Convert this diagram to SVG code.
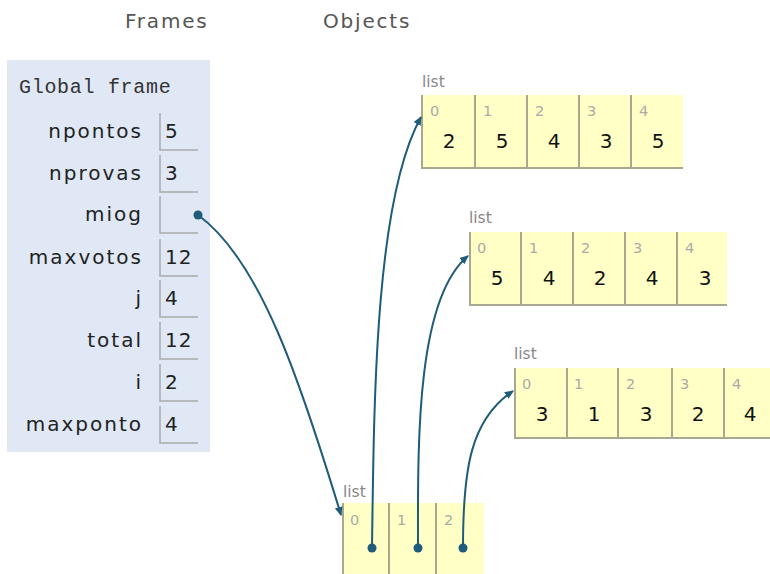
<svg xmlns="http://www.w3.org/2000/svg" width="770" height="574" viewBox="0 0 770 574">
<style>
.hd{font-family:"DejaVu Sans",Verdana,sans-serif;font-size:20px;letter-spacing:1.8px;fill:#555}
.gf{font-family:"Liberation Mono","DejaVu Sans Mono",monospace;font-size:20px;letter-spacing:0.7px;fill:#333}
.vn{font-family:"DejaVu Sans",Verdana,sans-serif;font-size:20px;letter-spacing:2px;fill:#222;text-anchor:end}
.vv{font-family:"DejaVu Sans",Verdana,sans-serif;font-size:20px;letter-spacing:1px;fill:#222}
.cell{fill:none;stroke:#aaa;stroke-width:1.5}
.lt{font-family:"DejaVu Sans",Verdana,sans-serif;font-size:15.5px;fill:#888}
.ix{font-family:"DejaVu Sans",Verdana,sans-serif;font-size:14.5px;fill:#aaa}
.lv{font-family:"DejaVu Sans",Verdana,sans-serif;font-size:20px;fill:#111;text-anchor:middle}
.lb{fill:#ffffc6}
.ld{stroke:#a8a890;stroke-width:2;fill:none}
.con{fill:none;stroke:#1f5b7a;stroke-width:2}
.dot{fill:#1f5b7a}
</style>
<defs>
<marker id="ah" markerWidth="10" markerHeight="10" refX="8" refY="5" orient="auto" markerUnits="userSpaceOnUse">
<path d="M0,1 L9,5 L0,9 Z" fill="#1f5b7a"/>
</marker>
</defs>
<text class="hd" x="125" y="28">Frames</text>
<text class="hd" x="323" y="28">Objects</text>
<g id="global-frame">
<rect x="7" y="60" width="203" height="392" fill="#dfe8f4"/>
<text class="gf" x="19" y="93">Global frame</text>
<g id="v-npontos"><text class="vn" x="143" y="138">npontos</text><path class="cell" d="M160,113 V150 H198"/><text class="vv" x="165" y="138">5</text></g>
<g id="v-nprovas"><text class="vn" x="143" y="180">nprovas</text><path class="cell" d="M160,155 V192 H198"/><text class="vv" x="165" y="180">3</text></g>
<g id="v-miog"><text class="vn" x="143" y="221">miog</text><path class="cell" d="M160,196 V233 H198"/></g>
<g id="v-maxvotos"><text class="vn" x="143" y="264">maxvotos</text><path class="cell" d="M160,239 V276 H198"/><text class="vv" x="165" y="264">12</text></g>
<g id="v-j"><text class="vn" x="143" y="305">j</text><path class="cell" d="M160,280 V317 H198"/><text class="vv" x="165" y="305">4</text></g>
<g id="v-total"><text class="vn" x="143" y="347">total</text><path class="cell" d="M160,322 V359 H198"/><text class="vv" x="165" y="347">12</text></g>
<g id="v-i"><text class="vn" x="143" y="389">i</text><path class="cell" d="M160,364 V401 H198"/><text class="vv" x="165" y="389">2</text></g>
<g id="v-maxponto"><text class="vn" x="143" y="431">maxponto</text><path class="cell" d="M160,406 V443 H198"/><text class="vv" x="165" y="431">4</text></g>
</g>
<g id="list1">
<text class="lt" x="422" y="87">list</text>
<rect class="lb" x="422" y="95" width="261" height="73"/>
<path class="ld" d="M422,95 V168 H683 M475,95 V168 M527,95 V168 M579,95 V168 M631,95 V168"/>
<text class="ix" x="430" y="116">0</text><text class="ix" x="483" y="116">1</text><text class="ix" x="535" y="116">2</text><text class="ix" x="587" y="116">3</text><text class="ix" x="639" y="116">4</text>
<text class="lv" x="449" y="148">2</text><text class="lv" x="502" y="148">5</text><text class="lv" x="554" y="148">4</text><text class="lv" x="606" y="148">3</text><text class="lv" x="658" y="148">5</text>
</g>
<g id="list2">
<text class="lt" x="469" y="223">list</text>
<rect class="lb" x="470" y="232" width="257" height="73"/>
<path class="ld" d="M470,232 V305 H727 M521,232 V305 M573,232 V305 M625,232 V305 M677,232 V305"/>
<text class="ix" x="477" y="253">0</text><text class="ix" x="529" y="253">1</text><text class="ix" x="581" y="253">2</text><text class="ix" x="633" y="253">3</text><text class="ix" x="685" y="253">4</text>
<text class="lv" x="497" y="285">5</text><text class="lv" x="549" y="285">4</text><text class="lv" x="600" y="285">2</text><text class="lv" x="652" y="285">4</text><text class="lv" x="705" y="285">3</text>
</g>
<g id="list3">
<text class="lt" x="514" y="359">list</text>
<rect class="lb" x="515" y="368" width="255" height="70"/>
<path class="ld" d="M515,368 V438 H770 M567,368 V438 M618,368 V438 M672,368 V438 M724,368 V438"/>
<text class="ix" x="522" y="389">0</text><text class="ix" x="574" y="389">1</text><text class="ix" x="626" y="389">2</text><text class="ix" x="680" y="389">3</text><text class="ix" x="732" y="389">4</text>
<text class="lv" x="542" y="421">3</text><text class="lv" x="594" y="421">1</text><text class="lv" x="646" y="421">3</text><text class="lv" x="698" y="421">2</text><text class="lv" x="750" y="421">4</text>
</g>
<g id="miog-list">
<text class="lt" x="343" y="497">list</text>
<rect class="lb" x="343" y="503" width="141" height="71"/>
<path class="ld" d="M343,503 V574 M389,503 V574 M436,503 V574"/>
<text class="ix" x="350" y="525">0</text><text class="ix" x="397" y="525">1</text><text class="ix" x="444" y="525">2</text>
</g>
<g id="connectors">
<path class="con" d="M198,215 C260,260 300,380 341,515" marker-end="url(#ah)"/>
<path class="con" d="M372,548 C374,400 375,200 421,117" marker-end="url(#ah)"/>
<path class="con" d="M418,548 C418,450 415,300 468,256" marker-end="url(#ah)"/>
<path class="con" d="M463,548 C463,470 470,420 513,391" marker-end="url(#ah)"/>
<circle class="dot" cx="198" cy="215" r="4.5"/>
<circle class="dot" cx="372" cy="548" r="4.5"/>
<circle class="dot" cx="418" cy="548" r="4.5"/>
<circle class="dot" cx="463" cy="548" r="4.5"/>
</g>
</svg>
